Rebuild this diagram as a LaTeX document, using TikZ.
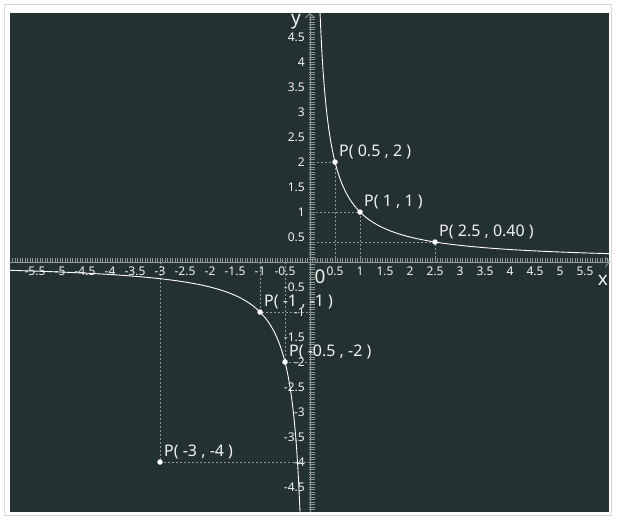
\documentclass[tikz,border=0pt]{standalone}
\usepackage{fontspec}
\setmainfont{Noto Sans}
\usetikzlibrary{arrows.meta}
\definecolor{bgdark}{HTML}{243132}
\definecolor{axisgray}{HTML}{8C9696}
\definecolor{framegray}{HTML}{D8D8D8}
\definecolor{labelwhite}{HTML}{F2F2F2}
\tikzset{
  axisline/.style={draw=axisgray, line width=0.9pt},
  tickmark/.style={draw=axisgray, line width=0.6pt},
  guide/.style={draw=axisgray, line width=0.9pt, dash pattern=on 2pt off 2pt},
  curve/.style={draw=white, line width=0.9pt},
  pt/.style={circle, fill=white, inner sep=0pt, minimum size=5.5pt},
  ticklabel/.style={text=labelwhite, font=\fontsize{12}{12}\selectfont, inner sep=0pt},
  ptlabel/.style={text=labelwhite, font=\fontsize{16}{16}\selectfont, inner sep=0pt, anchor=west},
  axislabel/.style={text=labelwhite, font=\fontsize{19}{19}\selectfont, inner sep=0pt}
}
\begin{document}
\begin{tikzpicture}[x=1pt,y=-1pt]
\useasboundingbox (0,0) rectangle (620,520);
\fill[white] (0,0) rectangle (620,520);
\draw[framegray, line width=0.8pt] (4,4) rectangle (611,515);
\fill[bgdark] (10,13) rectangle (609,512);
\begin{scope}[shift={(310,262)}, x=50pt, y=50pt]
  % guides
  \draw[guide] (0.5,0) -- (0.5,2) -- (0,2);
  \draw[guide] (1,0) -- (1,1) -- (0,1);
  \draw[guide] (2.5,0) -- (2.5,0.4) -- (0,0.4);
  \draw[guide] (-1,0) -- (-1,-1) -- (0,-1);
  \draw[guide] (-0.5,0) -- (-0.5,-2) -- (0,-2);
  \draw[guide] (-3,0) -- (-3,-4) -- (0,-4);
  % ticks
  \foreach \i in {-119,...,119} {
    \draw[tickmark] (\i/20,0) -- ++(0,0.08);
  }
  \foreach \i in {-99,...,98} {
    \draw[tickmark] (-0.02,\i/20) -- ++(0.11,0);
  }
  % axes
  \coordinate (xl) at (-6,0);
  \coordinate (xr) at (6,0);
  \coordinate (yb) at (0,-5);
  \coordinate (yt) at (0,4.98);
  \draw[axisline, -{Straight Barb[length=4pt,width=9pt]}] (xl) -- (xr);
  \draw[axisline, -{Straight Barb[length=4pt,width=9pt]}] (yb) -- (yt);
  % curve
  \draw[curve] plot[domain=0.2008:6, samples=200, smooth] (\x,{1/\x});
  \draw[curve] plot[domain=-6:-0.2, samples=200, smooth] (\x,{1/\x});
  % tick labels
  \foreach \v in {0.5,1,1.5,2,2.5,3,3.5,4,4.5,5,5.5} {
    \node[ticklabel] (xp\v) at (\v,-0.18) {\v};
    \node[ticklabel] (xn\v) at (-\v,-0.18) {-\v};
  }
  \foreach \v in {0.5,1,1.5,2,2.5,3,3.5,4,4.5} {
    \node[ticklabel, anchor=east] (yp\v) at (-0.1,\v) {\v};
    \node[ticklabel, anchor=east] (yn\v) at (-0.1,-\v) {-\v};
  }
  \node[axislabel] (o) at (0.2,-0.3) {0};
  \node[axislabel] (xlab) at (5.86,-0.36) {x};
  \node[axislabel] (ylab) at (-0.28,4.8) {y};
  % points
  \node[pt] (p1) at (0.5,2) {};
  \node[pt] (p2) at (1,1) {};
  \node[pt] (p3) at (2.5,0.4) {};
  \node[pt] (p4) at (-1,-1) {};
  \node[pt] (p5) at (-0.5,-2) {};
  \node[pt] (p6) at (-3,-4) {};
  \node[ptlabel] (l1) at ([shift={(4pt,10pt)}]p1.center) {P( 0.5 , 2 )};
  \node[ptlabel] (l2) at ([shift={(4pt,10pt)}]p2.center) {P( 1 , 1 )};
  \node[ptlabel] (l3) at ([shift={(4pt,10pt)}]p3.center) {P( 2.5 , 0.40 )};
  \node[ptlabel] (l4) at ([shift={(4pt,10pt)}]p4.center) {P( -1 , -1 )};
  \node[ptlabel] (l5) at ([shift={(4pt,10pt)}]p5.center) {P( -0.5 , -2 )};
  \node[ptlabel] (l6) at ([shift={(4pt,10pt)}]p6.center) {P( -3 , -4 )};
\end{scope}
\end{tikzpicture}
\end{document}
